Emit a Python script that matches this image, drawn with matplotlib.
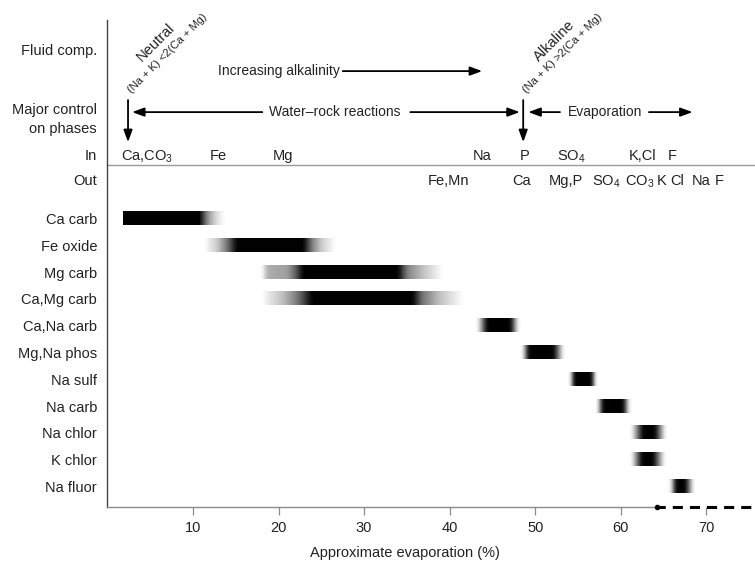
import numpy as np
import matplotlib
matplotlib.use("Agg")
import matplotlib.pyplot as plt

plt.rcParams['font.family'] = ['Liberation Sans', 'DejaVu Sans']
plt.rcParams['mathtext.fontset'] = 'custom'
plt.rcParams['mathtext.rm'] = 'Liberation Sans'

# ---------------------------------------------------------------- data
minerals = ["Ca carb", "Fe oxide", "Mg carb", "Ca,Mg carb", "Ca,Na carb",
            "Mg,Na phos", "Na sulf", "Na carb", "Na chlor", "K chlor", "Na fluor"]

# precipitation windows: evaporation (%) stops and relative intensity (0..1)
ca_carb_x = [1.8, 10.8, 11.7, 12.7, 13.7]
ca_carb_a = [1.0, 1.0, 0.45, 0.15, 0.0]
fe_oxide_x = [11.6, 12.8, 14.0, 15.1, 22.9, 23.9, 25.0, 26.6]
fe_oxide_a = [0.05, 0.2, 0.55, 1.0, 1.0, 0.5, 0.2, 0.0]
mg_carb_x = [18.2, 18.8, 21.0, 22.0, 22.8, 33.9, 35.0, 36.8, 39.1]
mg_carb_a = [0.15, 0.33, 0.38, 0.65, 1.0, 1.0, 0.5, 0.25, 0.0]
camg_carb_x = [18.4, 20.5, 22.3, 23.4, 23.9, 35.7, 36.8, 38.8, 41.6]
camg_carb_a = [0.05, 0.25, 0.55, 0.85, 1.0, 1.0, 0.55, 0.25, 0.0]
cana_carb_x = [43.3, 44.4, 47.1, 48.0]
cana_carb_a = [0.0, 1.0, 1.0, 0.0]
mgna_phos_x = [48.5, 49.2, 52.1, 53.2]
mgna_phos_a = [0.0, 1.0, 1.0, 0.0]
na_sulf_x = [54.1, 54.5, 56.6, 57.0]
na_sulf_a = [0.0, 1.0, 1.0, 0.0]
na_carb_x = [57.3, 57.9, 60.3, 61.0]
na_carb_a = [0.0, 1.0, 1.0, 0.0]
na_chlor_x = [61.3, 62.6, 64.0, 65.2]
na_chlor_a = [0.0, 1.0, 1.0, 0.0]
k_chlor_x = [61.3, 62.5, 63.8, 65.1]
k_chlor_a = [0.0, 1.0, 1.0, 0.0]
na_fluor_x = [65.8, 66.4, 67.5, 68.4]
na_fluor_a = [0.0, 1.0, 1.0, 0.0]

windows = [(ca_carb_x, ca_carb_a), (fe_oxide_x, fe_oxide_a), (mg_carb_x, mg_carb_a),
           (camg_carb_x, camg_carb_a), (cana_carb_x, cana_carb_a),
           (mgna_phos_x, mgna_phos_a), (na_sulf_x, na_sulf_a), (na_carb_x, na_carb_a),
           (na_chlor_x, na_chlor_a), (k_chlor_x, k_chlor_a), (na_fluor_x, na_fluor_a)]

# components entering / leaving solution (label, evaporation %)
in_labels = ["Ca,CO$_\\mathregular{3}$", "Fe", "Mg", "Na", "P", "SO$_\\mathregular{4}$", "K,Cl", "F"]
in_x = [1.6, 12.0, 19.35, 42.75, 48.25, 52.6, 60.9, 65.45]
out_labels = ["Fe,Mn", "Ca", "Mg,P", "SO$_\\mathregular{4}$", "CO$_\\mathregular{3}$", "K", "Cl", "Na", "F"]
out_x = [37.4, 47.3, 51.6, 56.6, 60.45, 64.25, 65.75, 68.35, 71.0]

neutral_x = 2.4      # neutral fluid composition
alkaline_x = 48.6    # onset of alkaline fluid
dash_from = 64.3     # evaporation continues beyond here
xticks = [10, 20, 30, 40, 50, 60, 70]

# ---------------------------------------------------------------- figure
fig = plt.figure(figsize=(7.55, 5.65), dpi=100)
ax = fig.add_axes([0.14238, 0.10265, 0.85762, 0.86195])
XMAX = 75.7
Y_BOT, Y_TOP = 10.765, -7.407
TXT = '#222222'


def profile(xs, stops_x, stops_a, sigma=0.22):
    a = np.interp(xs, stops_x, stops_a, left=0.0, right=0.0)
    dx = xs[1] - xs[0]
    k = np.arange(-int(4 * sigma / dx), int(4 * sigma / dx) + 1) * dx
    g = np.exp(-0.5 * (k / sigma) ** 2)
    g /= g.sum()
    sm = np.convolve(a, g, mode='same')
    # keep a hard leading edge where the window starts at full intensity
    if stops_a[0] >= 1.0:
        inside = xs >= stops_x[0]
        hard = a * (xs <= stops_x[1])
        sm[inside] = np.maximum(sm[inside], hard[inside])
        sm[~inside] = 0
    return np.clip(sm, 0, 1)


half_h = 0.243
for row, (sx, sa) in enumerate(windows):
    x0, x1 = sx[0] - 1.0, sx[-1] + 1.0
    xs = np.linspace(x0, x1, 1200)
    alpha = profile(xs, sx, sa)
    img = np.zeros((1, xs.size, 4))
    img[0, :, 3] = alpha
    ax.imshow(img, extent=(x0, x1, row + half_h, row - half_h), aspect='auto',
              interpolation='nearest', origin='upper', zorder=2)

ax.set_xlim(0, XMAX)
ax.set_ylim(Y_BOT, Y_TOP)

# row labels on the y axis
header_rows = [-6.29, -4.12, -3.41, -2.37, -1.44]
header_text = ["Fluid comp.", "Major control", "on phases", "In", "Out"]
ax.set_yticks(header_rows + list(range(len(minerals))))
ax.set_yticklabels(header_text + minerals, fontsize=10.5, color=TXT)
ax.tick_params(axis='y', length=0, pad=7.5)

ax.set_xticks(xticks)
ax.set_xticklabels([str(t) for t in xticks], fontsize=10.5, color=TXT)
ax.tick_params(axis='x', direction='out', length=6, width=0.9, color='#8a8a8a', pad=4)
ax.set_xlabel("Approximate evaporation (%)", fontsize=10.5, color=TXT)
ax.xaxis.set_label_coords((405 - 107.5) / 647.5, -0.08)

for s in ('top', 'right'):
    ax.spines[s].set_visible(False)
ax.spines['left'].set_color('#444444')
ax.spines['left'].set_linewidth(1.0)
ax.spines['bottom'].set_color('#8a8a8a')
ax.spines['bottom'].set_linewidth(1.0)
ax.spines['bottom'].set_bounds(0, dash_from)

ax.plot([dash_from, XMAX], [Y_BOT, Y_BOT], color='black', lw=2.2,
        linestyle=(0.6, (3.3, 2.3)), clip_on=False, solid_capstyle='butt', zorder=5)
ax.plot([dash_from], [Y_BOT], 'o', color='black', ms=3, clip_on=False, zorder=5)

# separator between In and Out rows
ax.plot([0, XMAX], [-1.98, -1.98], color='#9a9a9a', lw=1.0, clip_on=False)

# in / out components
for lab, x in zip(in_labels, in_x):
    ax.text(x, -2.18, lab, fontsize=10.5, color=TXT, ha='left', va='baseline')
for lab, x in zip(out_labels, out_x):
    ax.text(x, -1.25, lab, fontsize=10.5, color=TXT, ha='left', va='baseline')


def arrow(x0, y0, x1, y1):
    ax.annotate("", xy=(x1, y1), xytext=(x0, y0),
                arrowprops=dict(arrowstyle='-|>,head_length=0.6,head_width=0.22',
                                lw=1.3, color='black', shrinkA=0, shrinkB=0,
                                mutation_scale=12), annotation_clip=False)


# fluid composition annotations
ax.text(20.0, -5.50, "Increasing alkalinity", fontsize=10, color=TXT, ha='center', va='center')
arrow(27.5, -5.50, 43.8, -5.50)

ax.text(3.95, -5.85, "Neutral", fontsize=10.5, color=TXT, rotation=45,
        rotation_mode='anchor', ha='left', va='baseline')
ax.text(2.87, -4.66, "(Na + K) <2(Ca + Mg)", fontsize=8, color=TXT, rotation=45,
        rotation_mode='anchor', ha='left', va='baseline')
ax.text(50.4, -5.85, "Alkaline", fontsize=10.5, color=TXT, rotation=45,
        rotation_mode='anchor', ha='left', va='baseline')
ax.text(48.97, -4.66, "(Na + K) >2(Ca + Mg)", fontsize=8, color=TXT, rotation=45,
        rotation_mode='anchor', ha='left', va='baseline')

# major controls
arrow(neutral_x, -4.42, neutral_x, -2.85)
arrow(alkaline_x, -4.42, alkaline_x, -2.85)
ax.text(26.6, -3.97, "Water\u2013rock reactions", fontsize=10, color=TXT, ha='center', va='center')
arrow(18.1, -3.97, 2.87, -3.97)
arrow(35.4, -3.97, 48.2, -3.97)
ax.text(58.2, -3.97, "Evaporation", fontsize=10, color=TXT, ha='center', va='center')
arrow(52.9, -3.97, 49.2, -3.97)
arrow(63.3, -3.97, 68.4, -3.97)

fig.savefig("out.png", dpi=100)
